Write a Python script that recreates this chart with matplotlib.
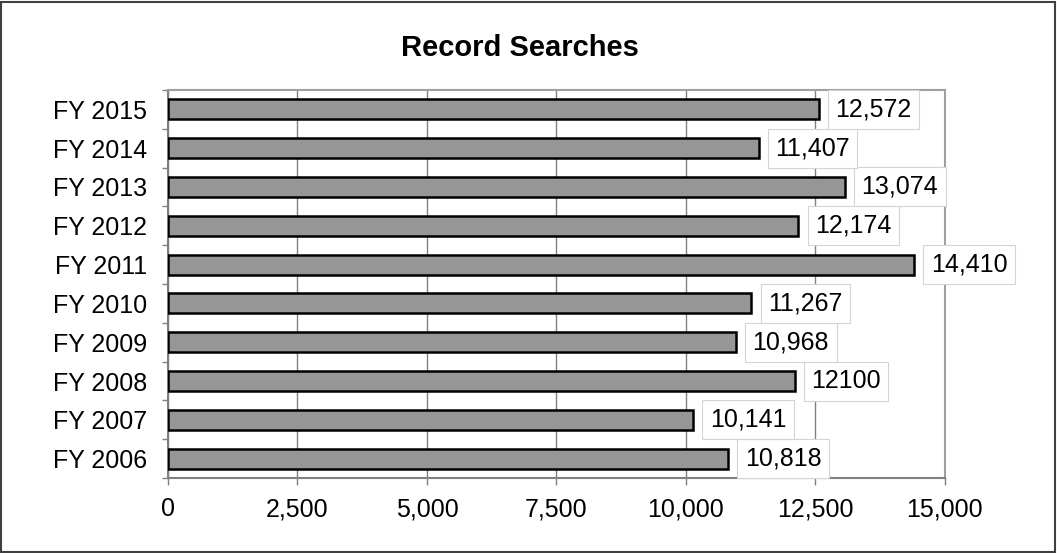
import matplotlib.pyplot as plt
from matplotlib.patches import Rectangle

# Record searches per fiscal year
years = ['FY 2006', 'FY 2007', 'FY 2008', 'FY 2009', 'FY 2010',
         'FY 2011', 'FY 2012', 'FY 2013', 'FY 2014', 'FY 2015']
searches = [10818, 10141, 12100, 10968, 11267, 14410, 12174, 13074, 11407, 12572]
value_labels = ['10,818', '10,141', '12100', '10,968', '11,267',
                '14,410', '12,174', '13,074', '11,407', '12,572']
x_ticks = [0, 2500, 5000, 7500, 10000, 12500, 15000]

plt.rcParams['font.family'] = ['Liberation Sans', 'DejaVu Sans']

fig = plt.figure(figsize=(10.57, 5.53), dpi=100)
ax = fig.add_axes([0.159, 0.1356, 0.7347, 0.7017])

pos = list(range(len(years)))
ax.barh(pos, searches, height=0.52, color='#969696', edgecolor='black',
        linewidth=1.8, zorder=3)

for p, v, lab in zip(pos, searches, value_labels):
    ax.annotate(lab, xy=(v, p), xytext=(12, 0), textcoords='offset points',
                ha='left', va='center', fontsize=18, zorder=4,
                bbox=dict(boxstyle='square,pad=0.3', facecolor='white',
                          edgecolor='#d4d4d4', linewidth=0.8),
                annotation_clip=False)

ax.set_xlim(0, 15000)
ax.set_ylim(-0.5, len(years) - 0.5)
ax.set_xticks(x_ticks)
ax.set_xticklabels([f'{t:,}' for t in x_ticks], fontsize=18)
ax.set_yticks(pos)
ax.set_yticklabels(years, fontsize=18)
ax.set_yticks([p - 0.5 for p in pos] + [len(years) - 0.5], minor=True)

ax.tick_params(axis='y', which='major', length=0, pad=15)
ax.tick_params(axis='y', which='minor', length=4, width=1, color='#808080')
ax.tick_params(axis='x', which='major', length=5, width=1, color='#808080', pad=9)

ax.grid(axis='x', color='#808080', linewidth=1, zorder=0)
ax.set_axisbelow(True)
for side in ['left', 'bottom']:
    ax.spines[side].set_color('#808080')
    ax.spines[side].set_linewidth(1.5)
for side in ['top', 'right']:
    ax.spines[side].set_color('#a0a0a0')
    ax.spines[side].set_linewidth(1.5)

fig.text(0.492, 0.913, 'Record Searches', ha='center', va='center',
         fontsize=21, fontweight='bold')

# outer chart border
fig.add_artist(Rectangle((0.001, 0.002), 0.997, 0.995, transform=fig.transFigure,
                         fill=False, edgecolor='#404040', linewidth=1.5))

fig.savefig('out.png', dpi=100)
